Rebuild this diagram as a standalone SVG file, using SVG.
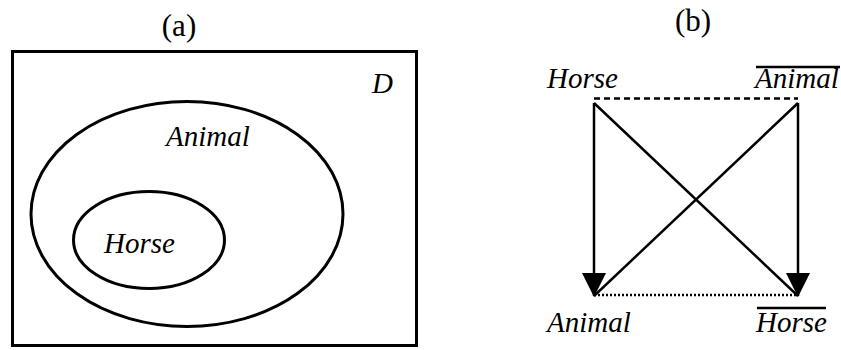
<svg xmlns="http://www.w3.org/2000/svg" width="841" height="350" viewBox="0 0 841 350">
<style>
text{font-family:'Liberation Serif','Times New Roman',serif;fill:#000}
.lbl{font-size:29px;font-style:italic}
.cap{font-size:31px}
.sh{fill:none;stroke:#000;stroke-width:3}
.ln{stroke:#000;stroke-width:2.5;fill:none}
</style>
<defs>
<marker id="ah" markerWidth="24" markerHeight="24" refX="23" refY="12" orient="auto" markerUnits="userSpaceOnUse" viewBox="0 0 24 24">
<path d="M0,0 L24,12 L0,24 Z" fill="#000"/>
</marker>
</defs>
<text class="cap" x="179" y="36" text-anchor="middle">(a)</text>
<text class="cap" x="693" y="31" text-anchor="middle">(b)</text>
<g id="D">
<rect class="sh" x="12.5" y="51.5" width="404" height="294"/>
<text class="lbl" x="372" y="93">D</text>
</g>
<g id="animal-set">
<ellipse class="sh" cx="187" cy="214" rx="156" ry="112.5"/>
<text class="lbl" x="166" y="146">Animal</text>
</g>
<g id="horse-set">
<ellipse class="sh" cx="149" cy="240" rx="75.5" ry="48.5"/>
<text class="lbl" x="104" y="253">Horse</text>
</g>
<g id="n-horse"><text class="lbl" x="547" y="88">Horse</text></g>
<g id="n-notanimal"><text class="lbl" x="755" y="88">Animal</text><line class="ln" x1="756" y1="67" x2="840" y2="67" stroke-width="2"/></g>
<g id="n-animal"><text class="lbl" x="547" y="332">Animal</text></g>
<g id="n-nothorse"><text class="lbl" x="756" y="332">Horse</text><line class="ln" x1="757" y1="308" x2="826" y2="308" stroke-width="2"/></g>
<g id="connectors">
<line class="ln" x1="594" y1="98.5" x2="798" y2="98.5" stroke-dasharray="6,4"/>
<line class="ln" x1="594" y1="295" x2="798" y2="295" stroke-width="2" stroke-dasharray="2,2"/>
<line class="ln" x1="594" y1="103" x2="594" y2="296" marker-end="url(#ah)"/>
<line class="ln" x1="798" y1="103" x2="798" y2="296" marker-end="url(#ah)"/>
<line class="ln" x1="594" y1="103" x2="798" y2="296"/>
<line class="ln" x1="798" y1="103" x2="594" y2="296"/>
</g>
</svg>
